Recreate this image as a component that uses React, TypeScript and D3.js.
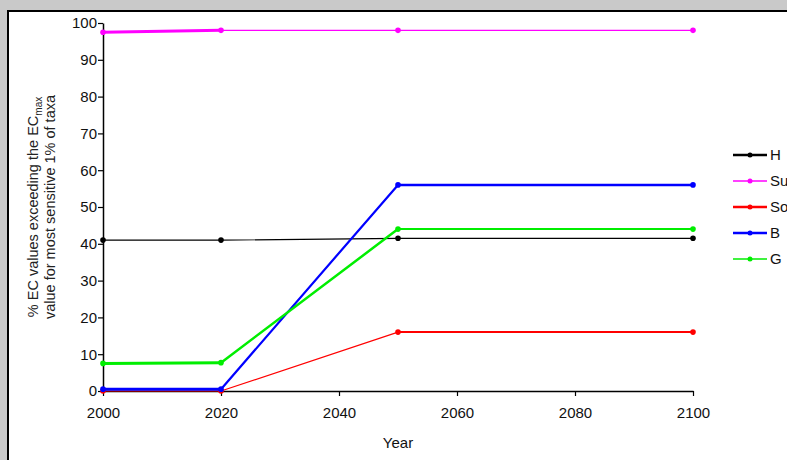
import * as d3 from "d3";
import { useEffect, useRef } from "react";

const years = [2000, 2020, 2050, 2100];
// legend names are cut by the frame in the original, only the first letters show
const seriesNames = ["H", "Su", "So", "B", "G"];
const hValues = [41, 41, 41.5, 41.5];
const suValues = [97.5, 98, 98, 98];
const soValues = [0, 0, 16, 16];
const bValues = [0.5, 0.5, 56, 56];
const gValues = [7.5, 7.7, 44, 44];
const xTicks = [2000, 2020, 2040, 2060, 2080, 2100];
const yTicks = [0, 10, 20, 30, 40, 50, 60, 70, 80, 90, 100];

// colours and per-segment widths (old excel export looks uneven)
const styles = [
  { color: "#000000", widths: [1.2, 1.2, 1.2] },
  { color: "#ff00ff", widths: [3, 1.2, 1.2] },
  { color: "#ff0000", widths: [1, 1.2, 2] },
  { color: "#0000ff", widths: [3, 2.2, 2.5] },
  { color: "#00ee00", widths: [3, 2.5, 2] },
];

const App = () => {
  const ref = useRef<SVGSVGElement>(null);

  useEffect(() => {
    const W = 787, H = 460;
    const margin = { top: 23, right: 94, bottom: 69, left: 103 };
    const width = W - margin.left - margin.right;
    const height = H - margin.top - margin.bottom;
    const font = "'Liberation Sans', Arial, sans-serif";

    const root = d3.select(ref.current);
    root.selectAll("*").remove();

    root.append("rect").attr("width", W).attr("height", H).attr("fill", "#c9c9c9");
    root.append("rect").attr("x", 8).attr("y", 11).attr("width", W).attr("height", H)
      .attr("fill", "#fff").attr("stroke", "#000").attr("stroke-width", 2);

    const svg = root.append("g").attr("transform", `translate(${margin.left},${margin.top})`);

    const x = d3.scaleLinear().domain([2000, 2100]).range([0, width]);
    const y = d3.scaleLinear().domain([0, 100]).range([height, 0]);

    const xAxis = svg.append("g").attr("transform", `translate(0,${height})`)
      .call(d3.axisBottom(x).tickValues(xTicks).tickFormat(d3.format("d")).tickSize(5).tickSizeOuter(0));
    const yAxis = svg.append("g")
      .call(d3.axisLeft(y).tickValues(yTicks).tickSize(5).tickSizeOuter(0));
    [xAxis, yAxis].forEach((a) => {
      a.select(".domain").attr("stroke", "#000").attr("stroke-width", 1.5);
      a.selectAll(".tick line").attr("stroke", "#000").attr("stroke-width", 1.2);
      a.selectAll("text").attr("font-family", font).attr("font-size", 15).attr("fill", "#111");
    });
    xAxis.selectAll("text").attr("dy", "1.25em");
    yAxis.selectAll("text").attr("x", -6);

    svg.append("text").attr("x", x(2050)).attr("y", height + 57).attr("text-anchor", "middle")
      .attr("font-family", font).attr("font-size", 15).attr("fill", "#111").text("Year");

    const lab = root.append("text").attr("transform", `translate(38,207) rotate(-90)`)
      .attr("text-anchor", "middle").attr("font-family", font).attr("font-size", 14.5).attr("fill", "#222");
    lab.append("tspan").text("% EC values exceeding the EC");
    lab.append("tspan").attr("font-size", 10).attr("dy", 4).text("max");
    root.append("text").attr("transform", `translate(55,207) rotate(-90)`)
      .attr("text-anchor", "middle").attr("font-family", font).attr("font-size", 14.5).attr("fill", "#222")
      .text("value for most sensitive 1% of taxa");

    const all = [hValues, suValues, soValues, bValues, gValues];
    all.forEach((vals, si) => {
      const st = styles[si];
      const g = svg.append("g");
      d3.pairs(d3.zip(years, vals)).forEach(([a, b], i) => {
        g.append("line")
          .attr("x1", x(a[0])).attr("y1", y(a[1]))
          .attr("x2", x(b[0])).attr("y2", y(b[1]))
          .attr("stroke", st.color).attr("stroke-width", st.widths[i]).attr("stroke-linecap", "round");
      });
      g.selectAll("circle").data(years.map((yr, i) => [yr, vals[i]]))
        .join("circle")
        .attr("cx", (d) => x(d[0])).attr("cy", (d) => y(d[1])).attr("r", 2.8)
        .attr("fill", st.color);
    });

    // legend
    const leg = root.append("g").attr("transform", "translate(733,155)");
    seriesNames.forEach((name, i) => {
      const row = leg.append("g").attr("transform", `translate(0,${i * 26})`);
      row.append("line").attr("x1", 0).attr("x2", 34).attr("stroke", styles[i].color)
        .attr("stroke-width", i === 1 || i === 4 ? 1.5 : 2.5);
      row.append("circle").attr("cx", 17).attr("r", 2.5).attr("fill", styles[i].color);
      row.append("text").attr("x", 37).attr("dy", "0.36em").attr("font-family", font)
        .attr("font-size", 15).attr("fill", "#111").text(name);
    });
  }, []);

  return (
    <div style={{ position: "fixed", left: 0, top: 0, width: 787, height: 460, overflow: "hidden" }}>
      <svg ref={ref} width={787} height={460} style={{ display: "block" }} />
    </div>
  );
};

export default App;
